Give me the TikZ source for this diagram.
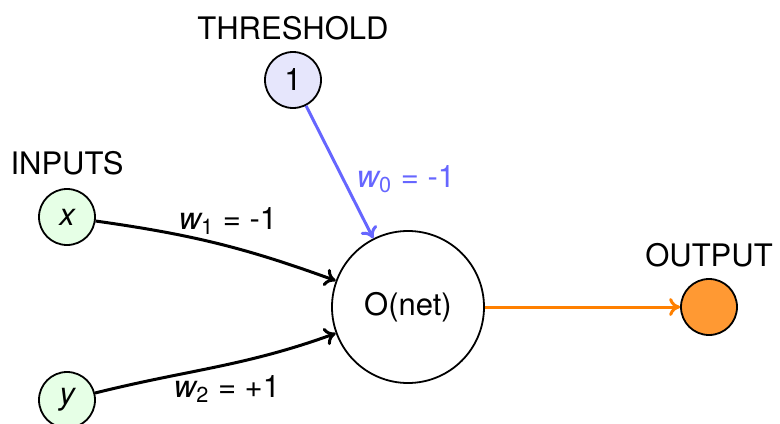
\documentclass[tikz,border=0pt]{standalone}
\usepackage{fontspec}
\setmainfont{TeX Gyre Heros}
\usetikzlibrary{arrows.meta}
\definecolor{thrblue}{RGB}{102,102,255}
\definecolor{thrfill}{RGB}{230,230,252}
\definecolor{infill}{RGB}{230,255,230}
\definecolor{outorange}{RGB}{255,128,0}
\definecolor{outfill}{RGB}{255,153,51}
\begin{document}
\begin{tikzpicture}[x=0.5pt,y=-0.5pt,
  font=\fontsize{15.5}{18}\selectfont,
  smallnode/.style={circle,draw,line width=0.9pt,minimum size=28pt,inner sep=0pt},
  bignode/.style={circle,draw,line width=0.9pt,minimum size=76pt,inner sep=0pt},
  conn/.style={line width=1.5pt,-{To[length=5.5pt,width=9pt]}},
  lbl/.style={inner sep=0pt}]
\useasboundingbox (0,0) rectangle (780,423);
\node[bignode] (O) at (408,307) {O(net)};
\node[smallnode,fill=infill] (x) at (67,217) {\itshape x};
\node[smallnode,fill=infill] (y) at (67,400) {\itshape y};
\node[smallnode,fill=thrfill] (t) at (293,80) {1};
\node[smallnode,fill=outfill] (out) at (709,307) {};
\node[lbl] (linputs) at (67,163) {INPUTS};
\node[lbl] (lthr) at (293,28) {THRESHOLD};
\node[lbl] (lout) at (709,255) {OUTPUT};
\draw[conn] (x) to[out=-8,in=160] (O);
\draw[conn] (y) to[out=14,in=200] (O);
\draw[conn,thrblue] (t) -- (O);
\draw[conn,outorange] (O) -- (out);
\node[lbl] (w1) at (228,221) {{\itshape w}\textsubscript{1} = -1};
\node[lbl] (w2) at (227,389) {{\itshape w}\textsubscript{2} = +1};
\node[lbl,text=thrblue] (w0) at (406,179) {{\itshape w}\textsubscript{0} = -1};
\end{tikzpicture}
\end{document}
